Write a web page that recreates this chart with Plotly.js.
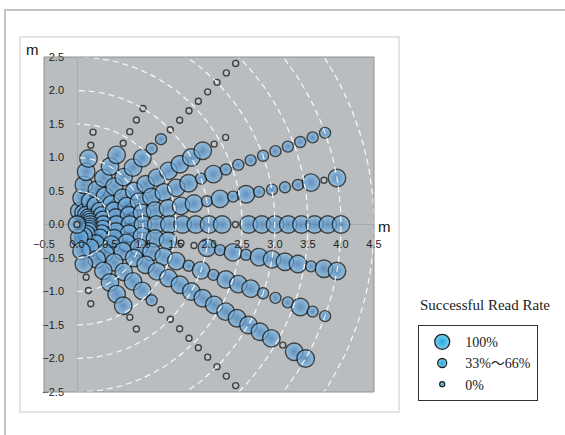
<!DOCTYPE html>
<html>
<head>
<meta charset="utf-8">
<script src="https://cdn.plot.ly/plotly-3.0.1.min.js"></script>
<style>html,body{margin:0;padding:0;background:#fff;}#chart{width:565px;height:435px;}</style>
</head>
<body>
<div id="chart"></div>
<script>
// ---- data ----
const rayAngles = [80, 60, 45, 30, 20, 10, 0, -10, -20, -30, -45, -60, -80];
const distances = [0.2,0.4,0.6,0.8,1.0,1.2,1.4,1.6,1.8,2.0,2.2,2.4,2.6,2.8,3.0,3.2,3.4,3.6,3.8,4.0];
// successful read rate (%) per ray, one value per distance step
const rate80  = [100,100,100,100,100,0,0];
const rate60  = [100,100,100,100,100,100,0,0,0,0];
const rate45  = [100,100,100,100,100,100,100,50,50,0,0,0,0,0,0,0,0];
const rate30  = [100,100,100,100,100,100,100,100,100,100,100,0,0];
const rate20  = [100,100,100,100,100,100,100,100,100,50,100,50,50,50,50,50,50,50,50,50];
const rate10  = [100,100,100,100,100,100,100,100,100,50,100,50,100,50,50,50,50,100,0,100];
const rate0   = [100,100,100,100,100,100,100,100,100,100,100,0,100,100,100,100,100,100,100,100];
const rateM10 = [100,100,100,100,100,100,100,0,0,100,50,100,50,100,100,100,100,50,100,100];
const rateM20 = [100,100,100,100,100,100,100,100,50,100,50,100,100,100,50,50,50,100,50,50];
const rateM30 = [100,100,100,100,100,100,100,100,100,100,100,100,100,100,100,100,100,0,100,100];
const rateM45 = [100,100,100,100,100,100,100,50,0,0,0,0,0,0,0,0,0];
const rateM60 = [100,100,100,100,100,100,100,0,0];
const rateM80 = [100,100,100,0,0,0];
const originRates = [100, 0];
const arcRadii = [0.5,1.0,1.5,2.0,2.5,3.0,3.5,4.0,4.5];
const tickValsX = [-0.5,0,0.5,1,1.5,2,2.5,3,3.5,4,4.5];
const tickValsY = [-2.5,-2,-1.5,-1,-0.5,0,0.5,1,1.5,2,2.5];
const legendNames = ['100%', '33%～66%', '0%'];
const legendRates = [100, 50, 0];

const rayRates = [rate80, rate60, rate45, rate30, rate20, rate10, rate0, rateM10, rateM20, rateM30, rateM45, rateM60, rateM80];

// ---- styles ----
function sizeOf(v){ return v >= 100 ? 17.5 : (v > 0 ? 11 : 6); }
function fillOf(v){ return v > 0 ? '#86c0ea' : 'rgba(205,210,213,0.7)'; }
function edgeOf(v){ return v > 0 ? '#3f7fbc' : 'rgba(205,210,213,0.7)'; }

const traces = [];
rayRates.forEach((rates, k) => {
  const a = rayAngles[k] * Math.PI / 180;
  const rs = distances.slice(0, rates.length);
  traces.push({
    type: 'scatter', mode: 'markers', showlegend: false, hoverinfo: 'skip',
    x: rs.map(r => r * Math.cos(a)),
    y: rs.map(r => r * Math.sin(a)),
    marker: {
      size: rates.map(sizeOf),
      color: rates.map(fillOf),
      gradient: {type: 'radial', color: rates.map(edgeOf)},
      line: {color: '#0d0d0d', width: 1.4}
    }
  });
});
// origin points
traces.push({
  type: 'scatter', mode: 'markers', showlegend: false, hoverinfo: 'skip',
  x: originRates.map(() => 0), y: originRates.map(() => 0),
  marker: {
    size: originRates.map(sizeOf), color: originRates.map(fillOf),
    gradient: {type: 'radial', color: originRates.map(edgeOf)},
    line: {color: '#0d0d0d', width: 1.4}
  }
});
// dashed distance arcs
arcRadii.forEach(r => {
  const xs = [], ys = [];
  for (let d = -90; d <= 90; d += 2) {
    xs.push(r * Math.cos(d * Math.PI / 180));
    ys.push(r * Math.sin(d * Math.PI / 180));
  }
  traces.push({type: 'scatter', mode: 'lines', x: xs, y: ys, showlegend: false, hoverinfo: 'skip',
    line: {color: 'rgba(255,255,255,0.9)', width: 1.2, dash: '6px,4px'}});
});
// legend entries
const legendSizes = [15, 9, 5];
legendNames.forEach((n, i) => {
  traces.push({type: 'scatter', mode: 'markers', x: [null], y: [null], name: n,
    legendgroup: 'g' + i, showlegend: true,
    marker: {size: legendSizes[i], color: legendRates[i] > 0 ? '#7ad2f6' : '#9fdcf7',
      gradient: {type: 'radial', color: '#27a6dc'}, line: {color: '#222', width: 1.3}}});
});

const W = 330, H = 335, L = 44, T = 57;
function px(x){ return (x - L) / W; }
function py(y){ return (T + H - y) / H; }

const layout = {
  width: 565, height: 435,
  margin: {l: L, r: 565 - L - W, t: T, b: 435 - T - H, pad: 0},
  paper_bgcolor: '#ffffff',
  plot_bgcolor: '#b9bdbf',
  font: {family: 'Liberation Sans, Arial, sans-serif', size: 11, color: '#222'},
  xaxis: {
    range: [-0.5, 4.5], anchor: 'free', position: 0.5,
    tickvals: tickValsX, tickformat: '.1f', ticks: '', ticklabelstandoff: 11,
    showgrid: false, showline: false, zeroline: true, zerolinecolor: '#a6aaac', zerolinewidth: 1,
    tickfont: {size: 11, color: '#222'}, fixedrange: true
  },
  yaxis: {
    range: [-2.5, 2.5], anchor: 'free', position: 0.1,
    tickvals: tickValsY, tickformat: '.1f', ticks: '', ticklabelstandoff: 13,
    showgrid: false, showline: false, zeroline: true, zerolinecolor: '#a6aaac', zerolinewidth: 1,
    tickfont: {size: 11, color: '#222'}, fixedrange: true
  },
  showlegend: true,
  legend: {
    x: px(418), y: py(325), xanchor: 'left', yanchor: 'top',
    bgcolor: '#ffffff', bordercolor: '#333', borderwidth: 1.2,
    font: {family: 'Liberation Serif, Noto Sans CJK JP, serif', size: 14, color: '#222'},
    tracegroupgap: 5, traceorder: 'normal', itemclick: false, itemwidth: 36
  },
  shapes: [
    {type: 'rect', xref: 'paper', yref: 'paper', x0: 0, x1: 1, y0: 0, y1: 1,
     line: {color: '#8e9294', width: 1}, layer: 'above'},
    {type: 'rect', xref: 'paper', yref: 'paper', x0: px(5), x1: px(575), y0: py(445), y1: py(10),
     line: {color: '#c4c4c4', width: 2}, layer: 'below'},
    {type: 'rect', xref: 'paper', yref: 'paper', x0: px(20), x1: px(399), y0: py(412), y1: py(37),
     line: {color: '#dcdcdc', width: 1.5}, layer: 'below'}
  ],
  annotations: [
    {xref: 'paper', yref: 'paper', x: px(418), y: py(305), xanchor: 'left', yanchor: 'middle',
     text: 'Successful Read Rate', showarrow: false,
     font: {family: 'Liberation Serif, serif', size: 15, color: '#222'}},
    {xref: 'paper', yref: 'paper', x: px(32), y: py(50), xanchor: 'center', yanchor: 'middle',
     text: 'm', showarrow: false, font: {size: 15, color: '#111'}},
    {xref: 'paper', yref: 'paper', x: px(384), y: py(226), xanchor: 'center', yanchor: 'middle',
     text: 'm', showarrow: false, font: {size: 15, color: '#111'}}
  ]
};

Plotly.newPlot('chart', traces, layout, {displayModeBar: false, staticPlot: true});
</script>
</body>
</html>
